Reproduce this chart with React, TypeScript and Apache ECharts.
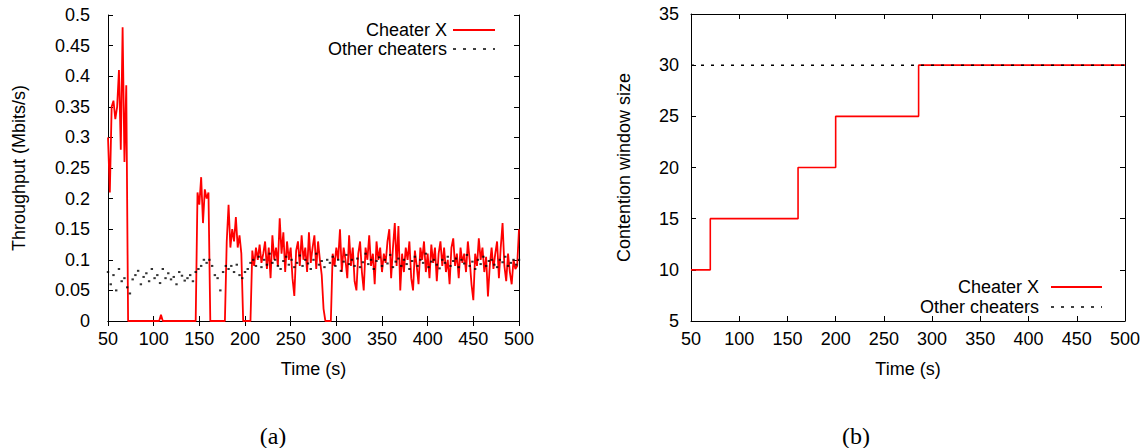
import React, { useEffect, useRef } from "react";
import * as echarts from "echarts";

// ---- Data ----
// (a) Throughput, Cheater X, sampled every 2 s from t = 50 s
const RED_START = 50;
const RED_STEP = 2;
const cheaterXThroughput = [
  0.30, 0.21, 0.35, 0.36, 0.33, 0.35, 0.41, 0.28, 0.48, 0.26,
  0.385, 0, 0, 0, 0, 0, 0, 0, 0, 0,
  0, 0, 0, 0, 0, 0, 0, 0, 0, 0.01,
  0, 0, 0, 0, 0, 0, 0, 0, 0, 0,
  0, 0, 0, 0, 0, 0, 0, 0, 0, 0.21,
  0.19, 0.235, 0.16, 0.215, 0.20, 0.21, 0, 0, 0, 0,
  0, 0, 0, 0, 0, 0.13, 0.19, 0.12, 0.15, 0.13,
  0.17, 0.12, 0.14, 0.11, 0, 0, 0, 0, 0, 0.115,
  0.09, 0.12, 0.10, 0.125, 0.095, 0.11, 0.13, 0.085, 0.12, 0.07,
  0.14, 0.10, 0.12, 0.09, 0.168, 0.11, 0.145, 0.08, 0.13, 0.10,
  0.12, 0.07, 0.041, 0.115, 0.13, 0.09, 0.14, 0.10, 0.12, 0.08,
  0.145, 0.095, 0.12, 0.14, 0.085, 0.13, 0.10, 0.075, 0.02, 0,
  0, 0, 0, 0.11, 0.09, 0.12, 0.10, 0.15, 0.08, 0.12,
  0.10, 0.07, 0.14, 0.09, 0.12, 0.065, 0.05, 0.11, 0.13, 0.08,
  0.05, 0.12, 0.10, 0.14, 0.09, 0.11, 0.06, 0.13, 0.10, 0.12,
  0.08, 0.11, 0.095, 0.13, 0.15, 0.07, 0.12, 0.16, 0.09, 0.155,
  0.05, 0.11, 0.08, 0.12, 0.10, 0.13, 0.07, 0.05, 0.115, 0.09,
  0.06, 0.12, 0.10, 0.13, 0.08, 0.11, 0.07, 0.125, 0.095, 0.12,
  0.065, 0.11, 0.13, 0.09, 0.12, 0.08, 0.10, 0.06, 0.12, 0.135,
  0.09, 0.11, 0.07, 0.12, 0.095, 0.11, 0.08, 0.13, 0.10, 0.06,
  0.034, 0.11, 0.09, 0.135, 0.10, 0.12, 0.08, 0.105, 0.04, 0.09,
  0.12, 0.085, 0.11, 0.13, 0.07, 0.12, 0.16, 0.09, 0.065, 0.11,
  0.08, 0.06, 0.10, 0.085, 0.09, 0.15,
];

// (a) Throughput, other cheaters, sampled every 3 s from t = 50 s
const BLACK_START = 50;
const BLACK_STEP = 3;
const otherThroughput = [
  0.08, 0.06, 0.075, 0.05, 0.085, 0.065, 0.07, 0.055, 0.045, 0.068,
  0.075, 0.082, 0.06, 0.072, 0.078, 0.065, 0.085, 0.07, 0.075, 0.062,
  0.085, 0.07, 0.078, 0.068, 0.072, 0.06, 0.08, 0.074, 0.066, 0.07,
  0.075, 0.065, 0.08,
  0.085, 0.09, 0.1, 0.095, 0.1, 0.09, 0.075, 0.07, 0.05, 0.08,
  0.09, 0.085, 0.09, 0.08, 0.092, 0.075, 0.07, 0.08,
  0.085, 0.095, 0.1, 0.09, 0.105, 0.088, 0.1, 0.092, 0.11, 0.095,
  0.1, 0.09, 0.085, 0.098, 0.105, 0.092, 0.1, 0.088, 0.095, 0.107,
  0.09, 0.1, 0.094, 0.085, 0.1, 0.11, 0.092, 0.098, 0.088, 0.1,
  0.095, 0.105, 0.09, 0.1, 0.082, 0.097, 0.108, 0.093, 0.1, 0.09,
  0.102, 0.088, 0.096, 0.11, 0.093, 0.1, 0.085, 0.098, 0.104, 0.09,
  0.1, 0.094, 0.108, 0.088, 0.097, 0.102, 0.09, 0.1, 0.093, 0.085,
  0.098, 0.105, 0.09, 0.1, 0.095, 0.11, 0.088, 0.097, 0.1, 0.092,
  0.086, 0.1, 0.095, 0.105, 0.09, 0.098, 0.102, 0.088, 0.1, 0.094,
  0.108, 0.09, 0.097, 0.085, 0.1, 0.093, 0.105, 0.09, 0.098, 0.1,
  0.092, 0.088, 0.1, 0.096, 0.105, 0.09, 0.095, 0.1, 0.092, 0.1,
];

// (b) Contention window size (step changes)
const cwTimes = [50, 70, 161, 200, 286, 500];
const cheaterXWindow = [10, 15, 20, 25, 30, 30];
const otherTimes = [50, 500];
const otherWindow = [30, 30];

const LEGEND_LABELS = ["Cheater X", "Other cheaters"];
const CAPTIONS = ["(a)", "(b)"];

const FONT = '"Liberation Sans", Arial, Helvetica, sans-serif';
const FS = 18;
const RED = "#ff0000";
const INK = "#000000";

export default function App() {
  const ref = useRef<HTMLDivElement>(null);

  useEffect(() => {
    document.body.style.margin = "0";
    if (!ref.current) return;
    const chart = echarts.init(ref.current, undefined, { renderer: "svg" });

    const redData = cheaterXThroughput.map((v, i) => [RED_START + i * RED_STEP, v]);
    const blackData = otherThroughput.map((v, i) => [BLACK_START + i * BLACK_STEP, v]);
    const cwData = cwTimes.map((t, i) => [t, cheaterXWindow[i]]);
    const otherData = otherTimes.map((t, i) => [t, otherWindow[i]]);

    const G0 = { left: 108, top: 15, width: 411, height: 306 };
    const G1 = { left: 691, top: 14, width: 434, height: 307 };

    const frameLine = { show: true, lineStyle: { color: INK, width: 1 } };
    const inTick = { show: true, inside: true, length: 5, lineStyle: { color: INK, width: 1 } };
    const fmtY = (v: number) => String(Number(v.toFixed(2)));

    const xBottom = (gi: number) => ({
      type: "value", gridIndex: gi, min: 50, max: 500, interval: 50, position: "bottom",
      axisLine: frameLine, axisTick: inTick, splitLine: { show: false },
      axisLabel: { color: INK, fontFamily: FONT, fontSize: FS, margin: 9 },
      name: "Time (s)", nameLocation: "middle", nameGap: 39,
      nameTextStyle: { color: INK, fontFamily: FONT, fontSize: FS },
    });
    const xTop = (gi: number) => ({
      type: "value", gridIndex: gi, min: 50, max: 500, interval: 50, position: "top",
      axisLine: frameLine, axisTick: inTick, splitLine: { show: false }, axisLabel: { show: false },
    });
    const yLeft = (gi: number, min: number, max: number, interval: number, name: string, gap: number, margin: number) => ({
      type: "value", gridIndex: gi, min, max, interval, position: "left",
      axisLine: frameLine, axisTick: inTick, splitLine: { show: false },
      axisLabel: { color: INK, fontFamily: FONT, fontSize: FS, margin, formatter: fmtY },
      name, nameLocation: "middle", nameGap: gap,
      nameTextStyle: { color: INK, fontFamily: FONT, fontSize: FS },
    });
    const yRight = (gi: number, min: number, max: number, interval: number) => ({
      type: "value", gridIndex: gi, min, max, interval, position: "right",
      axisLine: frameLine, axisTick: inTick, splitLine: { show: false }, axisLabel: { show: false },
    });

    const legend = (textEnd: number, lx1: number, lx2: number, y1: number, gap: number) => {
      const y2 = y1 + gap;
      return [
        { type: "text", x: textEnd, y: y1, style: { text: LEGEND_LABELS[0], textAlign: "right", textVerticalAlign: "middle", fill: INK, font: `${FS}px ${FONT}` } },
        { type: "line", shape: { x1: lx1, y1, x2: lx2, y2: y1 }, style: { stroke: RED, lineWidth: 1.8 } },
        { type: "text", x: textEnd, y: y2, style: { text: LEGEND_LABELS[1], textAlign: "right", textVerticalAlign: "middle", fill: INK, font: `${FS}px ${FONT}` } },
        { type: "line", shape: { x1: lx1, y1: y2, x2: lx2, y2 }, style: { stroke: INK, lineWidth: 1.5, lineDash: [3, 7] } },
      ];
    };

    const capFont = `24px "Liberation Serif", "DejaVu Serif", serif`;

    chart.setOption({
      animation: false,
      backgroundColor: "#ffffff",
      grid: [
        { ...G0, containLabel: false },
        { ...G1, containLabel: false },
      ],
      xAxis: [xBottom(0), xTop(0), xBottom(1), xTop(1)],
      yAxis: [
        yLeft(0, 0, 0.5, 0.05, "Throughput (Mbits/s)", 80, 18),
        yRight(0, 0, 0.5, 0.05),
        yLeft(1, 5, 35, 5, "Contention window size", 58, 12),
        yRight(1, 5, 35, 5),
      ],
      series: [
        {
          name: LEGEND_LABELS[0], type: "line", xAxisIndex: 0, yAxisIndex: 0,
          data: redData, showSymbol: false, symbol: "none",
          lineStyle: { color: RED, width: 1.8 }, z: 2,
        },
        {
          name: LEGEND_LABELS[1], type: "scatter", xAxisIndex: 0, yAxisIndex: 0,
          data: blackData, symbol: "rect", symbolSize: [2.4, 2],
          itemStyle: { color: INK }, z: 3,
        },
        {
          name: LEGEND_LABELS[0], type: "line", xAxisIndex: 2, yAxisIndex: 2,
          data: cwData, step: "end", showSymbol: false, symbol: "none",
          lineStyle: { color: RED, width: 1.6 }, z: 2,
        },
        {
          name: LEGEND_LABELS[1], type: "line", xAxisIndex: 2, yAxisIndex: 2,
          data: otherData, showSymbol: false, symbol: "none",
          lineStyle: { color: INK, width: 1.5, type: [3, 7] }, z: 3,
        },
      ],
      graphic: [
        ...legend(447, 453, 495, 30, 19),
        ...legend(1039, 1051, 1102, 287, 20),
        { type: "text", x: 273, y: 436, style: { text: CAPTIONS[0], textAlign: "center", textVerticalAlign: "middle", fill: INK, font: capFont } },
        { type: "text", x: 856, y: 436, style: { text: CAPTIONS[1], textAlign: "center", textVerticalAlign: "middle", fill: INK, font: capFont } },
      ],
    });

    return () => chart.dispose();
  }, []);

  return <div ref={ref} style={{ width: 1146, height: 448 }} />;
}
